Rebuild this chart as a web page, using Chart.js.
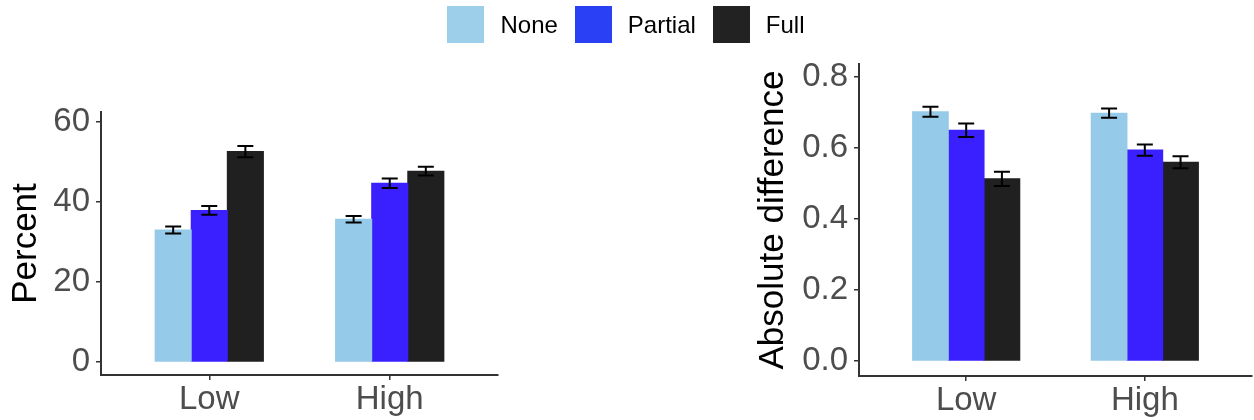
<!DOCTYPE html>
<html>
<head>
<meta charset="utf-8">
<script src="https://cdn.jsdelivr.net/npm/chart.js@4/dist/chart.umd.min.js"></script>
<style>
  body { margin: 0; background: #fff; font-family: "Liberation Sans", Arial, sans-serif; }
  #wrap { position: relative; width: 1254px; height: 420px; overflow: hidden; }
  #left { position: absolute; left: 0; top: 0; }
  #right { position: absolute; left: 627px; top: 0; }
  #legend { position: absolute; left: -1px; top: 6px; width: 1254px; display: flex; justify-content: center; align-items: center; }
  .item { display: flex; align-items: center; margin: 0 8.5px; }
  .swatch { width: 37px; height: 37px; margin-right: 16px; }
  .label { font-size: 24px; color: #000; }
</style>
</head>
<body>
<div id="wrap">
  <canvas id="left" width="627" height="420"></canvas>
  <canvas id="right" width="627" height="420"></canvas>
  <div id="legend"></div>
</div>
<script>
const categories = ["Low", "High"]
const series = ["None", "Partial", "Full"]

// left panel: Percent
const percentNone = [33.0, 35.7]
const percentPartial = [37.9, 44.7]
const percentFull = [52.6, 47.7]
const percentErrNone = [0.9, 0.8]
const percentErrPartial = [1.1, 1.2]
const percentErrFull = [1.4, 1.1]
const percentTicks = [0, 20, 40, 60]

// right panel: Absolute difference
const absNone = [0.702, 0.698]
const absPartial = [0.650, 0.594]
const absFull = [0.513, 0.560]
const absErrNone = [0.014, 0.013]
const absErrPartial = [0.019, 0.016]
const absErrFull = [0.020, 0.017]
const absTicks = [0, 0.2, 0.4, 0.6, 0.8]

const barColors = ["#95cbe8", "#3b20ff", "#202020"]
const legendColors = ["#9ecfea", "#2940f5", "#222222"]
const fontFamily = '"Liberation Sans", Arial, sans-serif'

// legend shared by both panels
const legendEl = document.getElementById("legend")
series.forEach((s, i) => {
    const item = document.createElement("div")
    item.className = "item"
    item.innerHTML = '<div class="swatch" style="background:' + legendColors[i] + '"></div><span class="label">' + s + '</span>'
    legendEl.appendChild(item)
})

const errorBars = {
    id: "errorBars",
    afterDatasetsDraw(chart) {
        const ctx = chart.ctx
        const y = chart.scales.y
        ctx.save()
        ctx.strokeStyle = "#000"
        ctx.lineWidth = 2
        chart.data.datasets.forEach((ds, i) => {
            chart.getDatasetMeta(i).data.forEach((bar, j) => {
                const hi = y.getPixelForValue(ds.data[j] + ds.errors[j])
                const lo = y.getPixelForValue(ds.data[j] - ds.errors[j])
                ctx.beginPath()
                ctx.moveTo(bar.x, hi); ctx.lineTo(bar.x, lo)
                ctx.moveTo(bar.x - 8, hi); ctx.lineTo(bar.x + 8, hi)
                ctx.moveTo(bar.x - 8, lo); ctx.lineTo(bar.x + 8, lo)
                ctx.stroke()
            })
        })
        ctx.restore()
    }
}

function makeChart(el, values, errors, ticks, yMin, yMax, title, fmt, pad, yWidth, xHeight, titlePad) {
    return new Chart(el, {
        type: "bar",
        data: {
            labels: categories,
            datasets: series.map((s, i) => ({
                label: s,
                data: values[i],
                errors: errors[i],
                backgroundColor: barColors[i],
                borderWidth: 0,
                inflateAmount: 0.5,
                categoryPercentage: 0.6,
                barPercentage: 1.0
            }))
        },
        options: {
            responsive: false,
            animation: false,
            layout: { padding: pad },
            plugins: { legend: { display: false }, tooltip: { enabled: false } },
            scales: {
                x: {
                    offset: false,
                    grid: { display: true, drawOnChartArea: false, offset: false, tickLength: 5, color: "#333", lineWidth: 1.5 },
                    border: { display: true, color: "#333", width: 2 },
                    ticks: { color: "#4d4d4d", padding: 0, font: { family: fontFamily, size: 33 } },
                    afterBuildTicks: scale => {
                        scale.ticks = categories.map((c, i) => ({ value: i }))
                        scale._startValue = -0.6
                        scale._valueRange = 2.2
                    },
                    afterFit: scale => { scale.height = xHeight }
                },
                y: {
                    min: yMin,
                    max: yMax,
                    grid: { display: true, drawOnChartArea: false, tickLength: 5, color: "#333", lineWidth: 1.5 },
                    border: { display: true, color: "#333", width: 2 },
                    ticks: { color: "#4d4d4d", padding: 6, font: { family: fontFamily, size: 33 }, callback: v => fmt(v) },
                    afterBuildTicks: scale => { scale.ticks = ticks.map(v => ({ value: v })) },
                    afterFit: scale => { scale.width = yWidth },
                    title: { display: true, text: title, color: "#000", padding: { top: titlePad }, font: { family: fontFamily, size: 35 } }
                }
            }
        },
        plugins: [errorBars]
    })
}

makeChart(document.getElementById("left"),
    [percentNone, percentPartial, percentFull],
    [percentErrNone, percentErrPartial, percentErrFull],
    percentTicks, -3.25, 62.5, "Percent", v => String(v),
    { left: 0, right: 129, top: 112, bottom: 0 }, 101, 45, 5)

makeChart(document.getElementById("right"),
    [absNone, absPartial, absFull],
    [absErrNone, absErrPartial, absErrFull],
    absTicks, -0.0423, 0.8366, "Absolute difference", v => v.toFixed(1),
    { left: 113, right: 2, top: 64, bottom: 0 }, 119, 44, 12)
</script>
</body>
</html>
